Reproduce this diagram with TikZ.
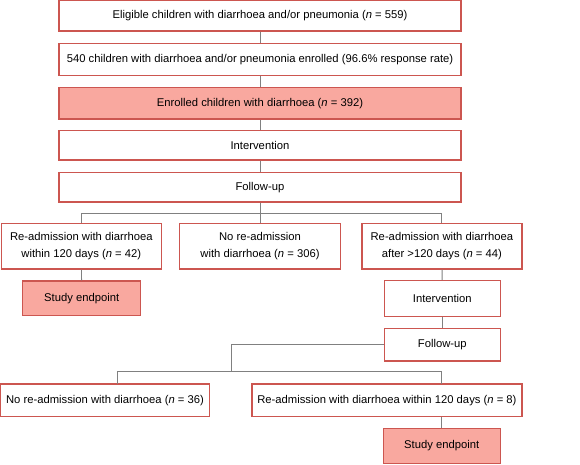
\documentclass[tikz,border=0pt]{standalone}
\usepackage{fontspec}
\setmainfont{Liberation Sans}
\usetikzlibrary{positioning}

\definecolor{boxred}{RGB}{204,86,80}
\definecolor{boxpink}{RGB}{249,168,159}
\definecolor{linkgray}{RGB}{128,128,128}

\tikzset{
  box/.style={draw=boxred, line width=1.2pt, fill=white, align=center,
    inner sep=0pt, font=\fontsize{11.25}{17.7}\selectfont},
  endbox/.style={box, fill=boxpink},
  link/.style={draw=linkgray, line width=0.9pt}
}

\begin{document}
\begin{tikzpicture}[x=1pt,y=-1pt]
  \useasboundingbox[fill=white] (0,0) rectangle (580,464);

  % main column
  \node[box, minimum width=402pt, minimum height=30.5pt]    (elig)   at (260,15.8)  {Eligible children with diarrhoea and/or pneumonia (\textit{n} = 559)};
  \node[box, minimum width=402pt, minimum height=31.6pt]    (enrol)  at (260,59.5)  {540 children with diarrhoea and/or pneumonia enrolled (96.6\% response rate)};
  \node[endbox, minimum width=402pt, minimum height=31.6pt] (diarr)  at (260,103.2) {Enrolled children with diarrhoea (\textit{n} = 392)};
  \node[box, minimum width=402pt, minimum height=29.3pt]    (interv) at (260,145.4) {Intervention};
  \node[box, minimum width=402pt, minimum height=29.7pt]    (follow) at (260,187.2) {Follow-up};

  % first outcome
  \node[box, minimum width=160pt, minimum height=45.7pt] (readm)  at (81.3,246.2) {Re-admission with diarrhoea\\within 120 days (\textit{n} = 42)};
  \node[box, minimum width=161pt, minimum height=45.7pt] (noread) at (260,246.2)  {No re-admission\\with diarrhoea (\textit{n} = 306)};
  \node[box, minimum width=160pt, minimum height=45.7pt] (after)  at (441.9,246.2) {Re-admission with diarrhoea\\after >120 days (\textit{n} = 44)};

  \node[endbox, minimum width=118pt, minimum height=34.7pt] (endA)    at (81.7,298.4)  {Study endpoint};
  \node[box, minimum width=116pt, minimum height=35.6pt]    (interv2) at (442.3,298.5) {Intervention};
  \node[box, minimum width=116pt, minimum height=32.3pt]    (follow2) at (442.3,344.9) {Follow-up};

  % second outcome
  \node[box, minimum width=208.5pt, minimum height=32.3pt] (noreadB) at (105,400.2)   {No re-admission with diarrhoea (\textit{n} = 36)};
  \node[box, minimum width=270pt, minimum height=32.3pt]   (readB)   at (386.9,400.2) {Re-admission with diarrhoea within 120 days (\textit{n} = 8)};
  \node[endbox, minimum width=117pt, minimum height=34.6pt] (endB)   at (441.7,446)   {Study endpoint};

  \coordinate (split)  at (231.3,371.7);
  \coordinate (dropL)  at (117.7,384);
  \coordinate (dropR)  at (441,384);

  \path[link] (elig) -- (enrol);
  \path[link] (enrol) -- (diarr);
  \path[link] (diarr) -- (interv);
  \path[link] (interv) -- (follow);
  \path[link] (follow.south) -- ++(0,11) -| (readm.north);
  \path[link] (follow.south) -- ++(0,11) -| (after.north);
  \path[link] (follow) -- (noread);
  \path[link] (readm) -- (endA);
  \path[link] (after) -- (interv2);
  \path[link] (interv2) -- (follow2);
  \path[link] (follow2.west) -| (split);
  \path[link] (split) -| (dropL);
  \path[link] (split) -| (dropR);
  \path[link] (readB.south -| endB.north) -- (endB.north);
\end{tikzpicture}
\end{document}
